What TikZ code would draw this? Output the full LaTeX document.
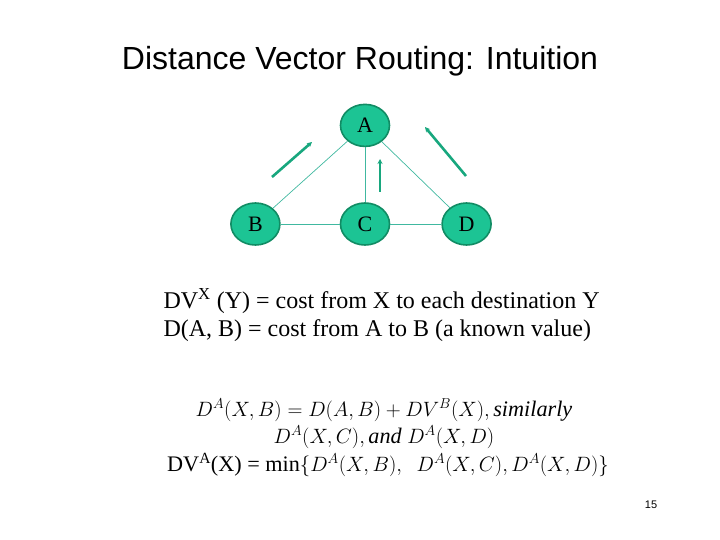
\documentclass[tikz,border=0pt]{standalone}
\usepackage{fontspec}
\setmainfont{Liberation Serif}
\newfontfamily\headfont{Liberation Sans}
\usepackage{tikz}
\usetikzlibrary{arrows.meta,positioning,shapes.geometric}
\definecolor{teal}{HTML}{1CC494}
\definecolor{tealdark}{HTML}{118C64}
\definecolor{link}{HTML}{40B8A0}

\begin{document}
\begin{tikzpicture}[
  x=1pt, y=-1pt,
  station/.style={ellipse, draw=tealdark, line width=1.6pt, fill=teal, minimum width=49pt, minimum height=42pt, inner sep=0pt, font=\fontsize{22}{24}\selectfont},
  wire/.style={draw=link, line width=0.7pt},
  hint/.style={-{Stealth[length=5pt,width=5pt]}, draw=teal!85!black, line width=2.6pt},
  body/.style={anchor=west, font=\fontsize{24}{28}\selectfont},
  formula/.style={font=\fontsize{22.2}{24}\selectfont}
]
\useasboundingbox (0,0) rectangle (720,540);
\node[font=\headfont\fontsize{32}{36}\selectfont] (title) at (360,61) {Distance Vector Routing: Intuition};
% the four routers
\node[station] (c) at (365,224) {C};
\node[station, left=59pt of c] (b) {B};
\node[station, right=51pt of c] (d) {D};
\node[station, above=55pt of c] (a) {A};
\draw[wire] (a) -- (b);
\draw[wire] (a) -- (c);
\draw[wire] (a) -- (d);
\draw[wire] (b) -- (c);
\draw[wire] (c) -- (d);
% vectors sent up to A
\coordinate (bs) at (272,177);
\coordinate (be) at (312,142);
\coordinate (cs) at (380,192);
\coordinate (ce) at (380,159);
\coordinate (ds) at (466,176);
\coordinate (de) at (425,127);
\draw[hint] (bs) -- (be);
\draw[hint] (cs) -- (ce);
\draw[hint] (ds) -- (de);
% text
\node[body] (l1) at (160,301) {DV\textsuperscript{X} (Y) = cost from X to each destination Y};
\node[body] (l2) at (160,331) {D(A, B) = cost from A to B (a known value)};
\node[formula] (e1) at (384,410) {$D^A(X,B) = D(A,B) + DV^B(X), \mathit{similarly}$};
\node[formula] (e2) at (384,437) {$D^A(X,C), \mathit{and}\ D^A(X,D)$};
\node[formula] (e3) at (388,465) {DV\textsuperscript{A}(X) = min$\{D^A(X,B),\ \ D^A(X,C), D^A(X,D)\}$};
\node[font=\headfont\fontsize{11}{13}\selectfont] (page) at (651,505) {15};
\end{tikzpicture}
\end{document}
